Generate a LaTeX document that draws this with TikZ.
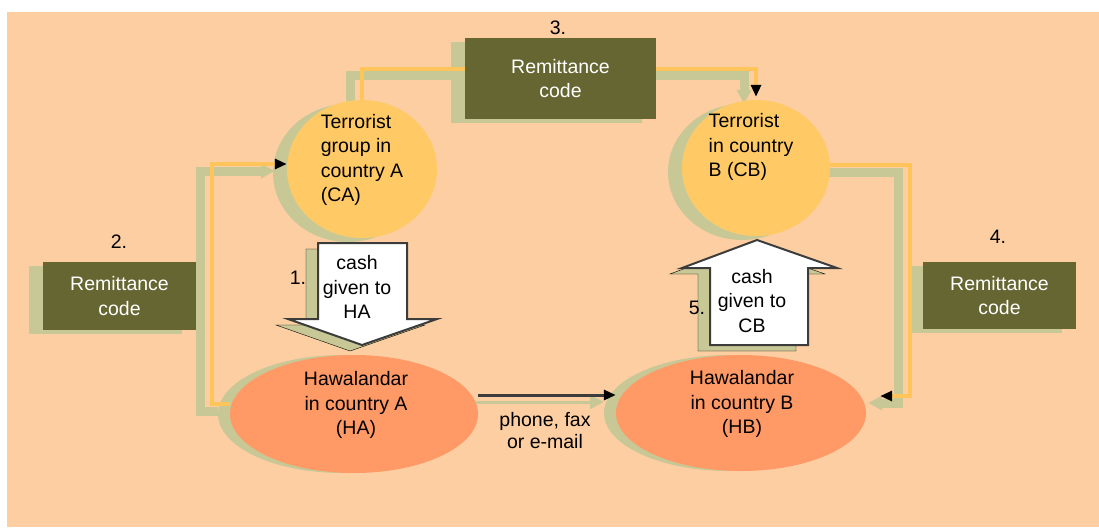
\documentclass[tikz,border=0pt]{standalone}
\usepackage{fontspec}
\setmainfont{Liberation Sans}
\usetikzlibrary{positioning,shapes.geometric,shadows,arrows.meta}

\definecolor{peach}{RGB}{252,206,162}
\definecolor{haze}{RGB}{200,200,150}
\definecolor{wireorange}{RGB}{255,196,90}
\definecolor{groupgold}{RGB}{255,202,102}
\definecolor{hawalaorange}{RGB}{255,153,102}
\definecolor{codeolive}{RGB}{102,102,51}
\definecolor{darkwire}{RGB}{60,60,60}

\pgfdeclarelayer{back}
\pgfdeclarelayer{front}
\pgfsetlayers{back,main,front}

\tikzset{
  haze shadow/.style={drop shadow={shadow xshift=-14pt,shadow yshift=-4pt,fill=haze,opacity=1}},
  groupnode/.style={ellipse, fill=groupgold, inner sep=0pt, haze shadow},
  hawalanode/.style={ellipse, fill=hawalaorange, inner sep=0pt,
    drop shadow={shadow xshift=-12pt,shadow yshift=0pt,fill=haze,opacity=1}},
  remitbox/.style={rectangle, fill=codeolive, text=white, align=center, inner sep=0pt, haze shadow},
  stepno/.style={inner sep=0pt},
  wire/.style={draw=wireorange, line width=4pt, >={Triangle[length=12pt,width=10pt,color=black]}},
  hazeline/.style={draw=haze, line width=9pt, transform canvas={shift={(-12pt,-7pt)}}, >={Triangle[length=14pt,width=14pt]}},
  cashshade/.style={fill=haze, xshift=-12pt, yshift=-6pt},
  cashbox/.style={fill=white, draw=darkwire, line width=2pt}
}

\begin{document}
\begin{tikzpicture}[x=1pt,y=-1pt,font=\fontsize{19.5}{24.5}\selectfont]
\useasboundingbox (0,0) rectangle (1099,527);
\begin{pgfonlayer}{back}
  \fill[white] (0,0) rectangle (1099,527);
  \fill[peach] (7,12) rectangle (1099,527);
\end{pgfonlayer}

\foreach \sty in {cashshade,cashbox}{
  \draw[\sty] (318,243) -- (407,243) -- (407,319) -- (437,319) -- (362,345) -- (288,319) -- (318,319) -- cycle;
  \draw[\sty] (710,345) -- (808,345) -- (808,268) -- (837,268) -- (757,240) -- (682,268) -- (710,268) -- cycle;
}
\node[align=center] (cash1) at (357,287) {cash\\given to\\HA};
\node[align=center] (cash5) at (752,301) {cash\\given to\\CB};

\node[groupnode, minimum width=150pt, minimum height=138pt] (ca) at (362,169) {};
\node[groupnode, minimum width=148pt, minimum height=136pt] (cb) at (756,168) {};
\node[hawalanode, minimum width=248pt, minimum height=118pt] (ha) at (354,414) {};
\node[hawalanode, minimum width=250pt, minimum height=116pt] (hb) at (741,413) {};
\node[remitbox, minimum width=191pt, minimum height=81pt] (rem3) at (560.5,78.5) {Remittance\\code};
\node[remitbox, minimum width=153pt, minimum height=68pt] (rem2) at (119.5,296) {Remittance\\code};
\node[remitbox, minimum width=153pt, minimum height=67pt] (rem4) at (999.5,295.5) {Remittance\\code};

\node[align=left] (catext) at ([yshift=9pt]ca.center) {Terrorist\\group in\\country A\\(CA)};
\node[align=left] (cbtext) at ([xshift=-5pt,yshift=21pt]cb.center) {Terrorist\\in country\\B (CB)};
\node[align=center] (hatext) at ([xshift=2pt,yshift=9pt]ha.center) {Hawalandar\\in country A\\(HA)};
\node[align=center] (hbtext) at ([xshift=1pt,yshift=9pt]hb.center) {Hawalandar\\in country B\\(HB)};

\node[stepno] (n1) at (298,278) {1.};
\node[stepno] (n2) at (119,242) {2.};
\node[stepno] (n3) at (558,28) {3.};
\node[stepno] (n4) at (998,237) {4.};
\node[stepno] (n5) at (697,308) {5.};
\node[align=center, font=\fontsize{19.5}{22}\selectfont] (phone) at (545,431) {phone, fax\\or e-mail};

\coordinate (bend2) at (212,164);
\coordinate (bend4) at (910,396);

\foreach \lay/\sty/\ink in {back/hazeline/haze, front/wire/darkwire}{
  \begin{pgfonlayer}{\lay}
    \draw[\sty] (ca.north) |- ([yshift=10pt]rem3.west);
    \draw[\sty,->] ([yshift=10pt]rem3.east) -| ([yshift=3pt]cb.north);
    \draw[\sty,->] ([yshift=3pt]cb.east) -| (bend4) -- ([xshift=14pt,yshift=17pt]hb.east);
    \draw[\sty,->] ([yshift=10pt]ha.west) -| (bend2) -- ([yshift=5pt]ca.west);
    \draw[\sty,->,draw=\ink,line width=3pt] ([yshift=19pt]ha.east) -- ([yshift=18pt]hb.west);
  \end{pgfonlayer}
}
\end{tikzpicture}
\end{document}
